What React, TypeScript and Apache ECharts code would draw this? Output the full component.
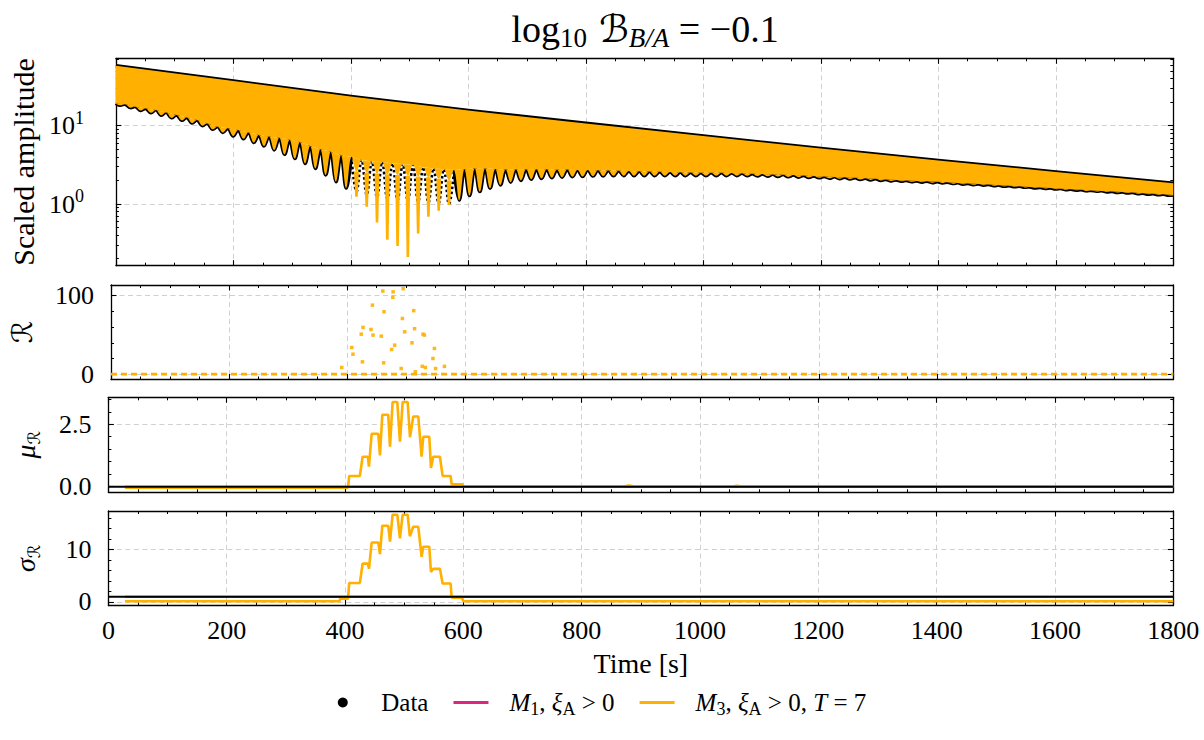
import React, { useEffect, useRef } from "react";
import * as echarts from "echarts";

const ORANGE = "#FFB000";
const PINK = "#DC267F";
const BLACK = "#000000";
const GRID_GREY = "#d0d0d0";
const SERIF = '"Liberation Serif", "DejaVu Serif", serif';
const SCRIPT = '"DejaVu Serif", "DejaVu Sans", serif';

// ---------- shared time axis ----------
const timeMin = 0;
const timeMax = 1800;
const timeStep = 200;

// ---------- panel 1 : scaled amplitude (log) ----------
const ampRange = [0.163, 72.6];
const ampMajorTicks = [1, 10];
const ampMinorTicks = [0.2, 0.3, 0.4, 0.5, 0.6, 0.7, 0.8, 0.9, 2, 3, 4, 5, 6, 7, 8, 9, 20, 30, 40, 50, 60, 70];

const upperTime = [0, 200, 400, 600, 800, 1000, 1200, 1400, 1600, 1800];
const upperAmp = [58.4, 37.2, 23.6, 15.6, 10.7, 7.4, 5.1, 3.6, 2.56, 1.84];

const scallopPeriod = 17.5;
const firstTroughTime = 7;
const firstCuspTime = 15.75;
const lowerStartAmp = 19.3;
const lowerEndAmp = 1.3;

const troughAmp = [
  18.2, 17.0, 15.6, 14.6, 13.6, 12.6, 11.7, 10.8, 10.0, 9.0,
  8.2, 7.4, 6.8, 6.1, 5.5, 4.9, 4.3, 3.8, 3.3, 2.85,
  2.35, 1.93, 1.6, 1.44, 1.3, 1.22, 1.17, 1.12, 1.1, 1.07,
  1.04, 1.02, 1.0, 1.12, 1.28, 1.44, 1.59, 1.75, 1.9, 2.0,
  2.07, 2.12, 2.16, 2.2, 2.23, 2.25, 2.27, 2.28, 2.29, 2.3,
  2.3, 2.3, 2.3, 2.3, 2.3, 2.3, 2.3, 2.3, 2.3, 2.3,
  2.3, 2.29, 2.28, 2.26, 2.24, 2.22, 2.2, 2.18, 2.16, 2.13,
  2.1, 2.08, 2.05, 2.03, 2.0, 1.97, 1.95, 1.92, 1.9, 1.87,
  1.85, 1.82, 1.79, 1.76, 1.74, 1.71, 1.68, 1.66, 1.63, 1.6,
  1.58, 1.55, 1.52, 1.5, 1.47, 1.45, 1.42, 1.4, 1.38, 1.35,
  1.33, 1.31, 1.29,
];
const cuspAmp = [
  18.8, 17.5, 16.6, 15.9, 14.8, 13.7, 12.7, 11.8, 10.7, 9.7,
  9.25, 8.8, 8.2, 7.6, 7.3, 7.0, 6.6, 6.2, 5.5, 5.0,
  4.65, 4.2, 4.0, 3.65, 3.5, 3.45, 3.3, 3.25, 3.15, 2.95,
  2.85, 2.77, 2.72, 2.77, 2.85, 2.85, 2.8, 2.75, 2.77, 2.77,
  2.77, 2.77, 2.74, 2.75, 2.72, 2.72, 2.7, 2.68, 2.66, 2.64,
  2.62, 2.6, 2.58, 2.56, 2.54, 2.52, 2.5, 2.5, 2.5, 2.49,
  2.47, 2.44, 2.42, 2.39, 2.37, 2.34, 2.31, 2.28, 2.25, 2.22,
  2.19, 2.16, 2.13, 2.1, 2.06, 2.03, 2.0, 1.97, 1.95, 1.92,
  1.89, 1.86, 1.83, 1.8, 1.77, 1.74, 1.71, 1.68, 1.65, 1.62,
  1.6, 1.57, 1.54, 1.52, 1.49, 1.47, 1.44, 1.42, 1.4, 1.37,
  1.35, 1.33,
];

// model (M3) dips below the data troughs around t = 410..570 s
const dipCycle = [23, 24, 25, 26, 27, 28, 29, 30, 31, 32];
const dipModelTop = [2.6, 2.5, 2.45, 2.4, 2.35, 2.3, 2.25, 2.2, 2.1, 2.0];
const dipModelBottom = [1.24, 0.92, 0.58, 0.35, 0.29, 0.21, 0.42, 0.69, 0.82, 0.97];

// ---------- panel 2 : R ----------
const rRange = [-6.8, 113.7];
const rMajorTicks = [0, 100];
const rMinorTicks = [20, 40, 60, 80];
const rTime = [391, 408, 410, 424, 426, 427, 440.5, 443, 444, 458, 460.6, 462, 462.6, 475.5, 477.5, 478, 480.7, 491.7, 493.7, 495, 497.6, 510, 513, 514.4, 515.7, 527.4, 528.7, 531, 532.6, 545.5, 548, 550, 565];
const rValue = [8.5, 34, 25.5, 51, 15.7, 59.6, 57, 88, 49.8, 48.5, 106, 14.5, 79.6, 31.5, 98, 105, 37, 7.2, 71, 109, 54, 40, 81, 58, 3, 10, 51, 49.8, 8.5, 20, 32.8, 7.2, 10];
const rBaseline = 0;

// ---------- panel 3 : mu_R ----------
const muRange = [-0.225, 3.58];
const muMajorTicks = [0, 2.5];
const muMinorTicks = [0.5, 1, 1.5, 2, 3, 3.5];
const muTime = [28, 405, 407, 425, 429.7, 438.5, 440.4, 445, 456.2, 459, 463, 473, 476, 480.4, 488.3, 492.8, 497.4, 505.8, 509.8, 515.3, 523.8, 529.4, 532.2, 542.4, 545.2, 549.1, 560.4, 564.9, 578.5, 580.2, 598, 600, 870, 880, 890, 1055, 1062, 1070, 1800];
const muValue = [-0.04, -0.04, 0.43, 0.43, 1.2, 1.2, 0.8, 2.12, 2.12, 1.25, 2.88, 2.88, 1.6, 3.39, 3.39, 1.8, 3.39, 3.39, 1.98, 2.81, 2.81, 1.2, 2.0, 2.0, 0.75, 1.2, 1.2, 0.43, 0.43, 0.1, 0.1, 0.01, 0.01, 0.05, 0.01, 0.01, 0.04, 0.01, 0.01];
const muReference = 0;
const muM1Level = 0;

// ---------- panel 4 : sigma_R ----------
const sigmaRange = [-0.67, 17.3];
const sigmaMajorTicks = [0, 10];
const sigmaMinorTicks = [2, 4, 6, 8, 12, 14, 16];
const sigmaTime = [28, 391, 391.5, 405, 407, 425, 429.7, 438.5, 440.4, 445, 456.2, 459, 463, 473, 476, 480.4, 488.3, 492.8, 497.4, 505.8, 509.5, 515.3, 523.8, 529.4, 532.2, 542.4, 545.2, 549.1, 560.4, 564.9, 578.5, 580.2, 597, 600, 1800];
const sigmaValue = [0.15, 0.15, 0.6, 0.6, 3.6, 3.6, 7.3, 7.3, 6.3, 11.3, 11.3, 9.1, 14.5, 14.5, 11.5, 16.6, 16.6, 12.1, 16.6, 16.6, 12.5, 14.3, 14.3, 8.6, 10.5, 10.5, 5.7, 6.3, 6.3, 3.5, 3.5, 0.8, 0.8, 0.15, 0.15];
const sigmaReference = 1;
const sigmaM1Level = 1;

// ---------- layout ----------
const GRID_LEFT = 108.4;
const GRID_WIDTH = 1064.9;
const panels = [
  { top: 58.3, height: 207.4 },
  { top: 285, height: 94.5 },
  { top: 397.3, height: 95 },
  { top: 511, height: 94.5 },
];
const SMOOTH = 0.4;
const LINE_ICON = "path://M0,0H30V2.6H0Z";

const richText = (size: number) => ({
  n: { fontFamily: SERIF, fontSize: size, fontWeight: "normal", color: BLACK, lineHeight: size + 6 },
  i: { fontFamily: SERIF, fontSize: size, fontStyle: "italic", fontWeight: "normal", color: BLACK, lineHeight: size + 6 },
  s: { fontFamily: SERIF, fontSize: Math.round(size * 0.7), fontWeight: "normal", color: BLACK, lineHeight: Math.round(size * 0.45), verticalAlign: "bottom" },
  si: { fontFamily: SERIF, fontSize: Math.round(size * 0.7), fontStyle: "italic", fontWeight: "normal", color: BLACK, lineHeight: Math.round(size * 0.45), verticalAlign: "bottom" },
  c: { fontFamily: SCRIPT, fontSize: size, fontStyle: "italic", fontWeight: "normal", color: BLACK, lineHeight: size + 6 },
  cs: { fontFamily: SCRIPT, fontSize: Math.round(size * 0.62), fontStyle: "italic", fontWeight: "normal", color: BLACK, lineHeight: Math.round(size * 0.45), verticalAlign: "bottom" },
});

function buildOption() {
  const troughTime = troughAmp.map((_, k) => firstTroughTime + k * scallopPeriod);
  const cuspTime = cuspAmp.map((_, k) => firstCuspTime + k * scallopPeriod);
  const zigzag = (troughs: number[]) => {
    const pts: number[][] = [[timeMin, lowerStartAmp]];
    for (let k = 0; k < troughs.length; k++) {
      pts.push([troughTime[k], troughs[k]]);
      if (k < cuspAmp.length) pts.push([cuspTime[k], cuspAmp[k]]);
    }
    pts.push([timeMax, lowerEndAmp]);
    return pts;
  };
  const dataLower = zigzag(troughAmp);
  const modelTrough = troughAmp.map((v, k) => {
    const i = dipCycle.indexOf(k);
    return i >= 0 ? dipModelTop[i] : v;
  });
  const modelLower = zigzag(modelTrough);
  const cuspPts = cuspTime.map((t, k) => [t, cuspAmp[k]]);
  const chordPts = [[timeMin, lowerStartAmp], ...cuspPts, [timeMax, lowerEndAmp]];
  const upperPts = upperTime.map((t, i) => [t, upperAmp[i]]);
  const dipStart = cuspTime[dipCycle[0] - 1];
  const dipEnd = cuspTime[dipCycle[dipCycle.length - 1]];
  const lowerA = dataLower.filter((p) => p[0] <= dipStart);
  const lowerDip = dataLower.filter((p) => p[0] >= dipStart && p[0] <= dipEnd);
  const lowerB = dataLower.filter((p) => p[0] >= dipEnd);

  const axisLineStyle = { color: BLACK, width: 1.3 };
  const tickStyle = { color: BLACK, width: 1.1 };

  const xAxes: any[] = [];
  panels.forEach((_, p) => {
    const last = p === panels.length - 1;
    xAxes.push({
      type: "value", gridIndex: p, position: "bottom", min: timeMin, max: timeMax, interval: timeStep,
      axisLine: { show: true, onZero: false, lineStyle: axisLineStyle },
      axisTick: { show: true, inside: true, length: 5.5, lineStyle: tickStyle },
      minorTick: { show: true, splitNumber: 4, length: 3, lineStyle: { color: BLACK, width: 1 } },
      splitLine: { show: true, lineStyle: { color: GRID_GREY, type: [5, 3.5], width: 1 } },
      axisLabel: { show: last, margin: 12, color: BLACK, fontFamily: SERIF, fontSize: 26, formatter: (v: number) => `${v}` },
      name: last ? "Time [s]" : "",
      nameLocation: "middle", nameGap: 44,
      nameTextStyle: { color: BLACK, fontFamily: SERIF, fontSize: 28 },
    });
    xAxes.push({
      type: "value", gridIndex: p, position: "top", min: timeMin, max: timeMax, interval: timeStep,
      axisLine: { show: true, onZero: false, lineStyle: axisLineStyle },
      axisTick: { show: true, inside: true, length: 5.5, lineStyle: tickStyle },
      minorTick: { show: true, splitNumber: 4, length: 3, lineStyle: { color: BLACK, width: 1 } },
      splitLine: { show: false },
      axisLabel: { show: false },
    });
  });

  const yCfg: any[] = [
    { type: "log", range: ampRange, major: ampMajorTicks, minor: ampMinorTicks, margin: 32,
      fmt: (v: number) => `{b|10}{sup|${Math.round(Math.log10(v))}}`,
      name: "Scaled amplitude", nameGap: 70, nameSize: 30 },
    { type: "value", range: rRange, major: rMajorTicks, minor: rMinorTicks, margin: 17,
      fmt: (v: number) => `${v}`, name: "{c|ℛ}", nameGap: 72, nameSize: 28 },
    { type: "value", range: muRange, major: muMajorTicks, minor: muMinorTicks, margin: 17,
      fmt: (v: number) => v.toFixed(1), name: "{i|μ}{cs|ℛ}", nameGap: 66, nameSize: 28 },
    { type: "value", range: sigmaRange, major: sigmaMajorTicks, minor: sigmaMinorTicks, margin: 17,
      fmt: (v: number) => `${v}`, name: "{i|σ}{cs|ℛ}", nameGap: 66, nameSize: 28 },
  ];

  const yAxes: any[] = [];
  yCfg.forEach((c, p) => {
    const common: any = { type: c.type, gridIndex: p, min: c.range[0], max: c.range[1] };
    if (c.type === "log") common.logBase = 10;
    yAxes.push({
      ...common, position: "left",
      axisLine: { show: true, onZero: false, lineStyle: axisLineStyle },
      axisTick: { show: true, inside: true, length: 5.5, customValues: c.major, lineStyle: tickStyle },
      axisLabel: {
        show: true, customValues: c.major, formatter: c.fmt, margin: c.margin,
        color: BLACK, fontFamily: SERIF, fontSize: 26,
        rich: {
          b: { fontFamily: SERIF, fontSize: 26, color: BLACK, lineHeight: 34 },
          sup: { fontFamily: SERIF, fontSize: 18, color: BLACK, lineHeight: 18, verticalAlign: "top" },
        },
      },
      splitLine: { show: true, lineStyle: { color: GRID_GREY, type: [5, 3.5], width: 1 } },
      name: c.name, nameLocation: "middle", nameRotate: 90, nameGap: c.nameGap,
      nameTextStyle: { color: BLACK, fontFamily: SERIF, fontSize: c.nameSize, rich: richText(c.nameSize) },
    });
    yAxes.push({
      ...common, position: "right",
      axisLine: { show: true, onZero: false, lineStyle: axisLineStyle },
      axisTick: { show: true, inside: true, length: 5.5, customValues: c.major, lineStyle: tickStyle },
      axisLabel: { show: false }, splitLine: { show: false },
    });
    // minor tick axes (one ends up on each side)
    yAxes.push({
      ...common, position: "right",
      axisLine: { show: false, onZero: false },
      axisTick: { show: true, inside: true, length: 3, customValues: c.minor, lineStyle: { color: BLACK, width: 1 } },
      axisLabel: { show: false }, splitLine: { show: false },
    });
    yAxes.push({
      ...common, position: "left",
      axisLine: { show: false, onZero: false },
      axisTick: { show: true, inside: true, length: 3, customValues: c.minor, lineStyle: { color: BLACK, width: 1 } },
      axisLabel: { show: false }, splitLine: { show: false },
    });
  });

  const ax = (p: number) => ({ xAxisIndex: 2 * p, yAxisIndex: 4 * p });
  const pairs = (ts: number[], vs: number[]) => ts.map((t, i) => [t, vs[i]]);

  const series: any[] = [
    // amplitude panel: data envelope (black)
    {
      ...ax(0), type: "custom", name: "Data", z: 2, silent: true,
      data: [[timeMin, upperAmp[0]]], encode: { x: 0, y: 1 },
      itemStyle: { color: BLACK },
      renderItem: (_params: any, api: any) => {
        const px = (pts: number[][]) => pts.map((pt) => api.coord(pt));
        return {
          type: "group",
          children: [
            { type: "polyline", shape: { points: px(upperPts) }, style: { stroke: BLACK, lineWidth: 3.6, fill: "none" } },
            { type: "polyline", shape: { points: px(lowerA), smooth: SMOOTH }, style: { stroke: BLACK, lineWidth: 3.4, fill: "none" } },
            { type: "polyline", shape: { points: px(lowerDip), smooth: SMOOTH }, style: { stroke: BLACK, lineWidth: 2.6, lineDash: [2.5, 2.5], fill: "none" } },
            { type: "polyline", shape: { points: px(lowerB), smooth: SMOOTH }, style: { stroke: BLACK, lineWidth: 3.4, fill: "none" } },
          ],
        };
      },
    },
    // mu panel
    { ...ax(2), type: "line", name: "M1", data: [[muTime[0], muM1Level], [timeMax, muM1Level]], symbol: "none", lineStyle: { color: PINK, width: 2 }, itemStyle: { color: PINK }, z: 2 },
    { ...ax(2), type: "line", name: "M3", data: pairs(muTime, muValue), symbol: "none", lineStyle: { color: ORANGE, width: 2.6 }, itemStyle: { color: ORANGE }, z: 3 },
    { ...ax(2), type: "line", name: "Reference", data: [[timeMin, muReference], [timeMax, muReference]], symbol: "none", lineStyle: { color: BLACK, width: 2 }, z: 4, silent: true },
    // sigma panel
    { ...ax(3), type: "line", name: "M1", data: [[sigmaTime[0], sigmaM1Level], [timeMax, sigmaM1Level]], symbol: "none", lineStyle: { color: PINK, width: 2 }, itemStyle: { color: PINK }, z: 2 },
    { ...ax(3), type: "line", name: "M3", data: pairs(sigmaTime, sigmaValue), symbol: "none", lineStyle: { color: ORANGE, width: 2.6 }, itemStyle: { color: ORANGE }, z: 3 },
    { ...ax(3), type: "line", name: "Reference", data: [[timeMin, sigmaReference], [timeMax, sigmaReference]], symbol: "none", lineStyle: { color: BLACK, width: 2 }, z: 4, silent: true },
    // amplitude panel: M3 band (straight body + smoothed scalloped underside)
    {
      ...ax(0), type: "custom", name: "M3", z: 3, silent: true,
      data: [[timeMin, upperAmp[0]]], encode: { x: 0, y: 1 },
      itemStyle: { color: ORANGE },
      renderItem: (_params: any, api: any) => {
        const body = upperPts.map((pt) => api.coord(pt)).concat(chordPts.slice().reverse().map((pt) => api.coord(pt)));
        const scallops = modelLower.map((pt) => api.coord(pt)).concat(cuspPts.slice().reverse().map((pt) => api.coord(pt)));
        return {
          type: "group",
          children: [
            { type: "polygon", shape: { points: body }, style: { fill: ORANGE } },
            { type: "polygon", shape: { points: scallops, smooth: SMOOTH }, style: { fill: ORANGE } },
          ],
        };
      },
    },
    {
      ...ax(0), type: "custom", name: "M3", z: 4, silent: true,
      data: dipCycle.map((k, i) => [troughTime[k], dipModelTop[i], dipModelBottom[i]]),
      encode: { x: 0, y: [1, 2] },
      itemStyle: { color: ORANGE },
      renderItem: (_params: any, api: any) => {
        const top = api.coord([api.value(0), api.value(1)]);
        const bot = api.coord([api.value(0), api.value(2)]);
        return {
          type: "polygon",
          shape: { points: [[top[0] - 2.4, top[1]], [top[0] + 2.4, top[1]], [bot[0] + 1.3, bot[1]], [bot[0] - 1.3, bot[1]]] },
          style: { fill: ORANGE },
        };
      },
    },
    // R panel
    { ...ax(1), type: "line", name: "M3", data: [[timeMin, rBaseline], [timeMax, rBaseline]], symbol: "none", lineStyle: { color: ORANGE, width: 2.6, type: [6, 4] }, z: 3, silent: true },
    { ...ax(1), type: "scatter", name: "M3", data: pairs(rTime, rValue), symbol: "rect", symbolSize: 3.5, itemStyle: { color: ORANGE, opacity: 0.9 }, z: 3 },
  ];

  return {
    animation: false,
    backgroundColor: "#ffffff",
    title: {
      text: "{n|log}{s|10}{c| ℬ}{si|B/A}{n| = −0.1}",
      left: 640, top: 2, textAlign: "center",
      textStyle: { fontWeight: "normal", rich: richText(38) },
    },
    legend: {
      top: 685, left: "center", selectedMode: false,
      itemWidth: 35, itemHeight: 10, itemGap: 25,
      data: [
        { name: "Data", icon: "circle" },
        { name: "M1", icon: LINE_ICON },
        { name: "M3", icon: LINE_ICON },
      ],
      formatter: (name: string) => {
        if (name === "Data") return "{n|Data}";
        if (name === "M1") return "{i|M}{s|1}{n|, }{i|ξ}{s|A}{n| > 0}";
        return "{i|M}{s|3}{n|, }{i|ξ}{s|A}{n| > 0, }{i|T}{n| = 7}";
      },
      textStyle: { padding: [0, 0, 0, 16], rich: richText(25) },
    },
    grid: panels.map((g) => ({ left: GRID_LEFT, top: g.top, width: GRID_WIDTH, height: g.height, containLabel: false })),
    xAxis: xAxes,
    yAxis: yAxes,
    series,
  };
}

export default function App() {
  const ref = useRef<HTMLDivElement>(null);
  useEffect(() => {
    if (!ref.current) return;
    const chart = echarts.init(ref.current, undefined, { renderer: "svg" });
    chart.setOption(buildOption() as any);
    return () => chart.dispose();
  }, []);
  return (
    <div
      ref={ref}
      style={{ position: "fixed", left: 0, top: 0, width: 1204, height: 740, background: "#ffffff" }}
    />
  );
}
